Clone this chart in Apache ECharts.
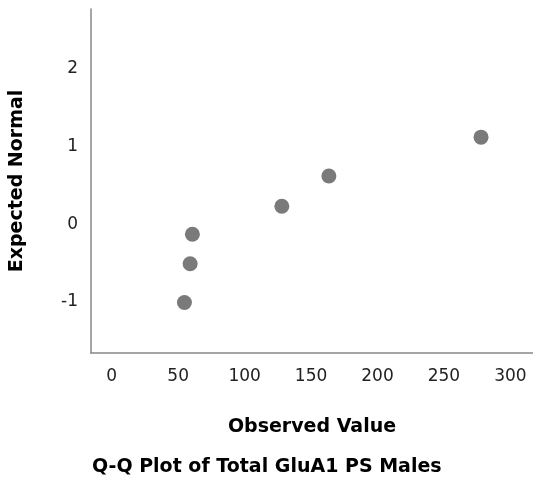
<!DOCTYPE html>
<html>
<head>
<meta charset="utf-8">
<script src="https://cdn.jsdelivr.net/npm/echarts@6/dist/echarts.min.js"></script>
<style>html,body{margin:0;padding:0;background:#fff;}#c{width:533px;height:477px;}</style>
</head>
<body>
<div id="c"></div>
<script>
const observedValues = [54.7, 59.0, 60.7, 128.0, 163.4, 277.9];
const expectedNormal = [-1.01, -0.51, -0.13, 0.23, 0.62, 1.12];
const xTicks = [0, 50, 100, 150, 200, 250, 300];
const yTicks = [-1, 0, 1, 2];
const chartTitle = 'Q-Q Plot of Total GluA1 PS Males';
const xName = 'Observed Value';
const yName = 'Expected Normal';

const points = observedValues.map((v, i) => [v, expectedNormal[i]]);
const chart = echarts.init(document.getElementById('c'), null, {renderer: 'canvas'});
const boldFont = 'DejaVu Sans';
chart.setOption({
  animation: false,
  backgroundColor: '#ffffff',
  title: {
    text: chartTitle,
    left: 87, top: 453,
    textStyle: {fontFamily: boldFont, fontWeight: 'bold', fontSize: 19, color: '#000'}
  },
  grid: {left: 91, right: 0, top: 9, bottom: 124},
  xAxis: {
    type: 'value', min: -15.6, max: 317,
    name: xName, nameLocation: 'middle', nameGap: 65,
    nameTextStyle: {fontFamily: boldFont, fontWeight: 'bold', fontSize: 19, color: '#000'},
    axisLine: {show: true, onZero: false, lineStyle: {color: '#888', width: 1.5}},
    axisTick: {show: false},
    splitLine: {show: false},
    axisLabel: {customValues: xTicks, margin: 15, fontFamily: 'DejaVu Sans', fontSize: 17, color: '#222'}
  },
  yAxis: {
    type: 'value', min: -1.66, max: 2.77,
    name: yName, nameLocation: 'middle', nameGap: 64,
    nameTextStyle: {fontFamily: boldFont, fontWeight: 'bold', fontSize: 19, color: '#000'},
    axisLine: {show: true, onZero: false, lineStyle: {color: '#888', width: 1.5}},
    axisTick: {show: false},
    splitLine: {show: false},
    axisLabel: {customValues: yTicks, margin: 13, fontFamily: 'DejaVu Sans', fontSize: 17, color: '#222'}
  },
  series: [{
    type: 'scatter',
    data: points,
    symbol: 'circle',
    symbolSize: 15,
    itemStyle: {color: '#7a7a7a', opacity: 1}
  }]
});
</script>
</body>
</html>
